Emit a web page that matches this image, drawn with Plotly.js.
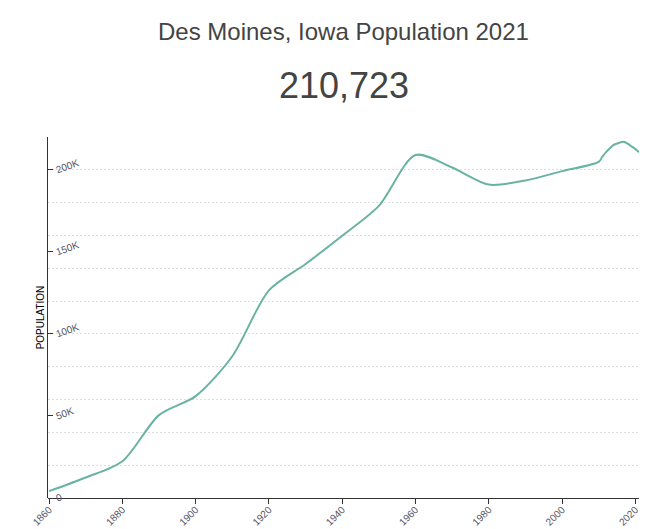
<!DOCTYPE html>
<html>
<head>
<meta charset="utf-8">
<script src="https://cdn.plot.ly/plotly-3.0.1.min.js"></script>
<style>html,body{margin:0;padding:0;background:#fff;}#chart{width:654px;height:529px;}</style>
</head>
<body>
<div id="chart"></div>
<script>
const years = [1860, 1870, 1880, 1890, 1900, 1910, 1920, 1930, 1940, 1950, 1960, 1970, 1980, 1990, 2000, 2010, 2011, 2012, 2013, 2014, 2015, 2016, 2017, 2018, 2019, 2020, 2021];
const population = [4200, 12500, 22400, 50500, 62100, 86400, 126500, 142600, 159800, 178000, 209000, 201400, 191000, 193500, 199200, 204800, 208000, 210800, 213000, 215000, 216000, 216800, 217000, 215800, 214200, 212700, 210723];
const yTickVals = [0, 50000, 100000, 150000, 200000];
const yTickText = ['0', '50K', '100K', '150K', '200K'];
const xTickVals = [1860, 1880, 1900, 1920, 1940, 1960, 1980, 2000, 2020];
const titleText = 'Des Moines, Iowa Population 2021';
const headlineText = '210,723';

const trace = {
  x: years, y: population, type: 'scatter', mode: 'lines',
  line: {color: '#69b3a2', width: 2, shape: 'spline', smoothing: 0.8},
  hoverinfo: 'skip'
};
const gridTrace = {x: [1900], y: [0], yaxis: 'y2', type: 'scatter', mode: 'markers', marker: {opacity: 0}, hoverinfo: 'skip', showlegend: false};

const layout = {
  width: 654, height: 529,
  margin: {l: 48, r: 15, t: 137, b: 31},
  paper_bgcolor: '#fff', plot_bgcolor: '#fff',
  showlegend: false,
  font: {family: 'Liberation Sans, Arial, sans-serif', color: '#555'},
  xaxis: {
    range: [1859.7, 2021], tickvals: xTickVals, ticktext: xTickVals.map(String),
    anchor: 'free', position: 0,
    showgrid: false, zeroline: false, showline: true, linecolor: '#333', linewidth: 1,
    ticks: 'outside', ticklen: 5, tickcolor: '#333', tickangle: -45,
    ticklabelstandoff: -4, ticklabeloverflow: 'allow',
    tickfont: {size: 10, color: '#556'}, automargin: false
  },
  yaxis: {
    range: [0, 220000], tickvals: yTickVals, ticktext: yTickText,
    showgrid: false, zeroline: false, showline: true, linecolor: '#333', linewidth: 1,
    ticks: 'inside', ticklen: 5, tickcolor: '#333', tickangle: -20,
    ticklabelposition: 'inside top', ticklabelshift: 8, ticklabelstandoff: 4,
    ticklabeloverflow: 'allow',
    tickfont: {size: 10, color: '#556'}, automargin: false,
    title: {text: 'POPULATION', font: {size: 10, color: '#000'}, standoff: 8}
  },
  yaxis2: {
    overlaying: 'y', range: [0, 220000], tick0: 0, dtick: 20000,
    showgrid: true, gridcolor: '#dddddd', griddash: '2px,2px', gridwidth: 1,
    showticklabels: false, ticks: '', zeroline: false, showline: false
  },
  annotations: [
    {text: titleText, xref: 'paper', yref: 'paper', x: 0.5, y: 1, yshift: 106, xanchor: 'center', yanchor: 'middle', showarrow: false, font: {size: 24, color: '#444'}},
    {text: headlineText, xref: 'paper', yref: 'paper', x: 0.5, y: 1, yshift: 52, xanchor: 'center', yanchor: 'middle', showarrow: false, font: {size: 36, color: '#444'}}
  ]
};
Plotly.newPlot('chart', [gridTrace, trace], layout, {displayModeBar: false, staticPlot: true});
</script>
</body>
</html>
